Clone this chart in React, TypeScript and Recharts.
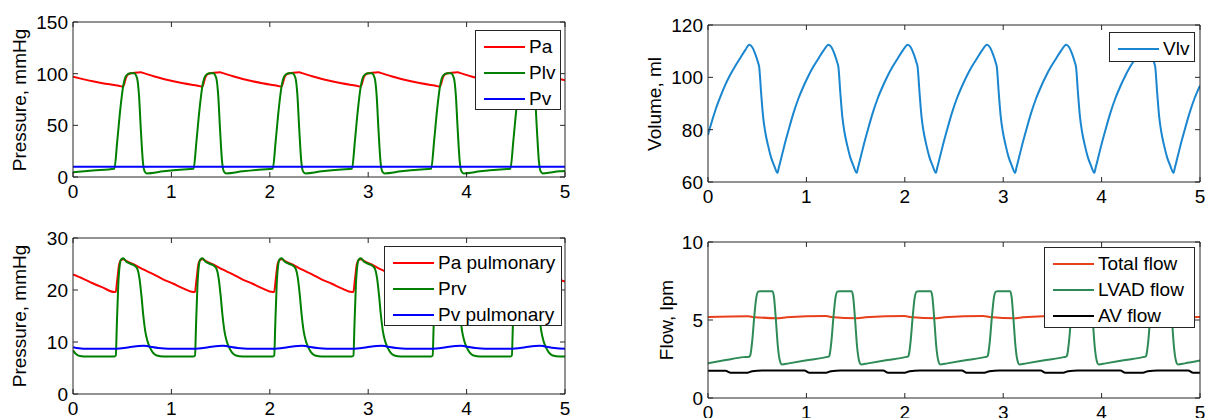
import React from 'react';
import { LineChart, Line, XAxis, YAxis, Legend } from 'recharts';

const FONT = '"Liberation Sans", Arial, Helvetica, sans-serif';
const FRAME = '#262626';
const FS = 19;

type Pt = [number, number];
type Series = { name: string; color: string; points: Pt[] };

const timeTicks = [0, 1, 2, 3, 4, 5];

// top left: systemic pressures (mmHg)
const sysTicks = [0, 50, 100, 150];
const pa: Pt[] = [
  [0, 97], [0.1, 94.7], [0.2, 92.6], [0.3, 90.8],
  [0.42, 89], [0.465, 88.3], [0.51, 87.5], [0.54, 96.5], [0.56, 99.3], [0.6, 100.5], [0.66, 101.2], [0.69, 101.3], [0.72, 100.5], [0.82, 97.5], [0.92, 94.8], [1.02, 92.6], [1.12, 90.7],
  [1.225, 89], [1.27, 88.3], [1.315, 87.5], [1.345, 96.5], [1.365, 99.3], [1.405, 100.5], [1.465, 101.2], [1.495, 101.3], [1.525, 100.5], [1.625, 97.5], [1.725, 94.8], [1.825, 92.6], [1.925, 90.7],
  [2.03, 89], [2.075, 88.3], [2.12, 87.5], [2.15, 96.5], [2.17, 99.3], [2.21, 100.5], [2.27, 101.2], [2.3, 101.3], [2.33, 100.5], [2.43, 97.5], [2.53, 94.8], [2.63, 92.6], [2.73, 90.7],
  [2.835, 89], [2.88, 88.3], [2.925, 87.5], [2.955, 96.5], [2.975, 99.3], [3.015, 100.5], [3.075, 101.2], [3.105, 101.3], [3.135, 100.5], [3.235, 97.5], [3.335, 94.8], [3.435, 92.6], [3.535, 90.7],
  [3.64, 89], [3.685, 88.3], [3.73, 87.5], [3.76, 96.5], [3.78, 99.3], [3.82, 100.5], [3.88, 101.2], [3.91, 101.3], [3.94, 100.5], [4.04, 97.5], [4.14, 94.8], [4.24, 92.6], [4.34, 90.7],
  [4.445, 89], [4.49, 88.3], [4.535, 87.5], [4.565, 96.5], [4.585, 99.3], [4.625, 100.5], [4.685, 101.2], [4.715, 101.3], [4.745, 100.5], [4.845, 97.5], [4.945, 94.8], [5, 93.6],
];
const plv: Pt[] = [
  [0, 4.5], [0.2, 6.3],
  [0.42, 8], [0.45, 35], [0.48, 65], [0.51, 88], [0.54, 98], [0.58, 100.5], [0.62, 100.5], [0.65, 96], [0.67, 80], [0.69, 45], [0.71, 15], [0.73, 5], [0.75, 3.5], [0.92, 5.5], [1.12, 7.3],
  [1.225, 8], [1.255, 35], [1.285, 65], [1.315, 88], [1.345, 98], [1.385, 100.5], [1.425, 100.5], [1.455, 96], [1.475, 80], [1.495, 45], [1.515, 15], [1.535, 5], [1.555, 3.5], [1.725, 5.5], [1.925, 7.3],
  [2.03, 8], [2.06, 35], [2.09, 65], [2.12, 88], [2.15, 98], [2.19, 100.5], [2.23, 100.5], [2.26, 96], [2.28, 80], [2.3, 45], [2.32, 15], [2.34, 5], [2.36, 3.5], [2.53, 5.5], [2.73, 7.3],
  [2.835, 8], [2.865, 35], [2.895, 65], [2.925, 88], [2.955, 98], [2.995, 100.5], [3.035, 100.5], [3.065, 96], [3.085, 80], [3.105, 45], [3.125, 15], [3.145, 5], [3.165, 3.5], [3.335, 5.5], [3.535, 7.3],
  [3.64, 8], [3.67, 35], [3.7, 65], [3.73, 88], [3.76, 98], [3.8, 100.5], [3.84, 100.5], [3.87, 96], [3.89, 80], [3.91, 45], [3.93, 15], [3.95, 5], [3.97, 3.5], [4.14, 5.5], [4.34, 7.3],
  [4.445, 8], [4.475, 35], [4.505, 65], [4.535, 88], [4.565, 98], [4.605, 100.5], [4.645, 100.5], [4.675, 96], [4.695, 80], [4.715, 45], [4.735, 15], [4.755, 5], [4.775, 3.5], [4.945, 5.5], [5, 5.8],
];
const pv: Pt[] = [[0, 9.8], [5, 9.8]];

// top right: LV volume (ml)
const volTicks = [60, 80, 100, 120];
const vlv: Pt[] = [
  [0, 78], [0.03, 82], [0.08, 88], [0.13, 93], [0.18, 97.5], [0.23, 101.3], [0.28, 104.5], [0.33, 107.5], [0.38, 110.5],
  [0.42, 112.5], [0.45, 111.5], [0.48, 109], [0.51, 105.5], [0.52, 104], [0.54, 94], [0.56, 85], [0.58, 79.5], [0.61, 74], [0.64, 69.5], [0.675, 66], [0.705, 63.5], [0.72, 65.5], [0.75, 70], [0.78, 74.5], [0.82, 80], [0.87, 86.5], [0.92, 92], [0.97, 96.5], [1.02, 100.5], [1.07, 104], [1.12, 107], [1.17, 110],
  [1.225, 112.5], [1.255, 111.5], [1.285, 109], [1.315, 105.5], [1.325, 104], [1.345, 94], [1.365, 85], [1.385, 79.5], [1.415, 74], [1.445, 69.5], [1.48, 66], [1.51, 63.5], [1.525, 65.5], [1.555, 70], [1.585, 74.5], [1.625, 80], [1.675, 86.5], [1.725, 92], [1.775, 96.5], [1.825, 100.5], [1.875, 104], [1.925, 107], [1.975, 110],
  [2.03, 112.5], [2.06, 111.5], [2.09, 109], [2.12, 105.5], [2.13, 104], [2.15, 94], [2.17, 85], [2.19, 79.5], [2.22, 74], [2.25, 69.5], [2.285, 66], [2.315, 63.5], [2.33, 65.5], [2.36, 70], [2.39, 74.5], [2.43, 80], [2.48, 86.5], [2.53, 92], [2.58, 96.5], [2.63, 100.5], [2.68, 104], [2.73, 107], [2.78, 110],
  [2.835, 112.5], [2.865, 111.5], [2.895, 109], [2.925, 105.5], [2.935, 104], [2.955, 94], [2.975, 85], [2.995, 79.5], [3.025, 74], [3.055, 69.5], [3.09, 66], [3.12, 63.5], [3.135, 65.5], [3.165, 70], [3.195, 74.5], [3.235, 80], [3.285, 86.5], [3.335, 92], [3.385, 96.5], [3.435, 100.5], [3.485, 104], [3.535, 107], [3.585, 110],
  [3.64, 112.5], [3.67, 111.5], [3.7, 109], [3.73, 105.5], [3.74, 104], [3.76, 94], [3.78, 85], [3.8, 79.5], [3.83, 74], [3.86, 69.5], [3.895, 66], [3.925, 63.5], [3.94, 65.5], [3.97, 70], [4.0, 74.5], [4.04, 80], [4.09, 86.5], [4.14, 92], [4.19, 96.5], [4.24, 100.5], [4.29, 104], [4.34, 107], [4.39, 110],
  [4.445, 112.5], [4.475, 111.5], [4.505, 109], [4.535, 105.5], [4.545, 104], [4.565, 94], [4.585, 85], [4.605, 79.5], [4.635, 74], [4.665, 69.5], [4.7, 66], [4.73, 63.5], [4.745, 65.5], [4.775, 70], [4.805, 74.5], [4.845, 80], [4.895, 86.5], [4.945, 92], [5, 96.8],
];

// bottom left: pulmonary pressures (mmHg)
const pulTicks = [0, 10, 20, 30];
const paPul: Pt[] = [
  [0, 23], [0.1, 22.2], [0.2, 21.3], [0.3, 20.5],
  [0.42, 19.6], [0.435, 19.7], [0.45, 22], [0.47, 25], [0.49, 25.8], [0.51, 25.9], [0.55, 25.5], [0.62, 24.9], [0.72, 23.9], [0.82, 23], [0.92, 22], [1.02, 21.2], [1.12, 20.3],
  [1.225, 19.6], [1.24, 19.7], [1.255, 22], [1.275, 25], [1.295, 25.8], [1.315, 25.9], [1.355, 25.5], [1.425, 24.9], [1.525, 23.9], [1.625, 23], [1.725, 22], [1.825, 21.2], [1.925, 20.3],
  [2.03, 19.6], [2.045, 19.7], [2.06, 22], [2.08, 25], [2.1, 25.8], [2.12, 25.9], [2.16, 25.5], [2.23, 24.9], [2.33, 23.9], [2.43, 23], [2.53, 22], [2.63, 21.2], [2.73, 20.3],
  [2.835, 19.6], [2.85, 19.7], [2.865, 22], [2.885, 25], [2.905, 25.8], [2.925, 25.9], [2.965, 25.5], [3.035, 24.9], [3.135, 23.9], [3.235, 23], [3.335, 22], [3.435, 21.2], [3.535, 20.3],
  [3.64, 19.6], [3.655, 19.7], [3.67, 22], [3.69, 25], [3.71, 25.8], [3.73, 25.9], [3.77, 25.5], [3.84, 24.9], [3.94, 23.9], [4.04, 23], [4.14, 22], [4.24, 21.2], [4.34, 20.3],
  [4.445, 19.6], [4.46, 19.7], [4.475, 22], [4.495, 25], [4.515, 25.8], [4.535, 25.9], [4.575, 25.5], [4.645, 24.9], [4.745, 23.9], [4.845, 23], [4.945, 22], [5, 21.6],
];
const prv: Pt[] = [
  [0, 8.4], [0.03, 7.7], [0.07, 7.3], [0.15, 7.2],
  [0.42, 7.2], [0.435, 7.4], [0.445, 13], [0.46, 21], [0.475, 24.8], [0.49, 25.9], [0.51, 26.1], [0.54, 25.5], [0.59, 25], [0.63, 24.6], [0.655, 24], [0.675, 22.3], [0.695, 19], [0.715, 15], [0.735, 12], [0.755, 10.3], [0.78, 9], [0.81, 8], [0.85, 7.4], [0.92, 7.2],
  [1.225, 7.2], [1.24, 7.4], [1.25, 13], [1.265, 21], [1.28, 24.8], [1.295, 25.9], [1.315, 26.1], [1.345, 25.5], [1.395, 25], [1.435, 24.6], [1.46, 24], [1.48, 22.3], [1.5, 19], [1.52, 15], [1.54, 12], [1.56, 10.3], [1.585, 9], [1.615, 8], [1.655, 7.4], [1.725, 7.2],
  [2.03, 7.2], [2.045, 7.4], [2.055, 13], [2.07, 21], [2.085, 24.8], [2.1, 25.9], [2.12, 26.1], [2.15, 25.5], [2.2, 25], [2.24, 24.6], [2.265, 24], [2.285, 22.3], [2.305, 19], [2.325, 15], [2.345, 12], [2.365, 10.3], [2.39, 9], [2.42, 8], [2.46, 7.4], [2.53, 7.2],
  [2.835, 7.2], [2.85, 7.4], [2.86, 13], [2.875, 21], [2.89, 24.8], [2.905, 25.9], [2.925, 26.1], [2.955, 25.5], [3.005, 25], [3.045, 24.6], [3.07, 24], [3.09, 22.3], [3.11, 19], [3.13, 15], [3.15, 12], [3.17, 10.3], [3.195, 9], [3.225, 8], [3.265, 7.4], [3.335, 7.2],
  [3.64, 7.2], [3.655, 7.4], [3.665, 13], [3.68, 21], [3.695, 24.8], [3.71, 25.9], [3.73, 26.1], [3.76, 25.5], [3.81, 25], [3.85, 24.6], [3.875, 24], [3.895, 22.3], [3.915, 19], [3.935, 15], [3.955, 12], [3.975, 10.3], [4.0, 9], [4.03, 8], [4.07, 7.4], [4.14, 7.2],
  [4.445, 7.2], [4.46, 7.4], [4.47, 13], [4.485, 21], [4.5, 24.8], [4.515, 25.9], [4.535, 26.1], [4.565, 25.5], [4.615, 25], [4.655, 24.6], [4.68, 24], [4.7, 22.3], [4.72, 19], [4.74, 15], [4.76, 12], [4.78, 10.3], [4.805, 9], [4.835, 8], [4.875, 7.4], [4.945, 7.2], [5, 7.2],
];
const pvPul: Pt[] = [
  [0, 9], [0.06, 8.8], [0.15, 8.7],
  [0.42, 8.7], [0.47, 8.75], [0.57, 9], [0.67, 9.25], [0.72, 9.3], [0.77, 9.15], [0.87, 8.85], [0.97, 8.7],
  [1.225, 8.7], [1.275, 8.75], [1.375, 9], [1.475, 9.25], [1.525, 9.3], [1.575, 9.15], [1.675, 8.85], [1.775, 8.7],
  [2.03, 8.7], [2.08, 8.75], [2.18, 9], [2.28, 9.25], [2.33, 9.3], [2.38, 9.15], [2.48, 8.85], [2.58, 8.7],
  [2.835, 8.7], [2.885, 8.75], [2.985, 9], [3.085, 9.25], [3.135, 9.3], [3.185, 9.15], [3.285, 8.85], [3.385, 8.7],
  [3.64, 8.7], [3.69, 8.75], [3.79, 9], [3.89, 9.25], [3.94, 9.3], [3.99, 9.15], [4.09, 8.85], [4.19, 8.7],
  [4.445, 8.7], [4.495, 8.75], [4.595, 9], [4.695, 9.25], [4.745, 9.3], [4.795, 9.15], [4.895, 8.85], [5, 8.7],
];

// bottom right: flows (lpm)
const flowTicks = [0, 5, 10];
const totalFlow: Pt[] = [
  [0, 5.2], [0.4, 5.24], [0.45, 5.2], [0.72, 5.12], [0.8, 5.18], [1.2, 5.25], [1.25, 5.2], [1.52, 5.12], [1.6, 5.18],
  [2.0, 5.26], [2.05, 5.2], [2.33, 5.12], [2.4, 5.18], [2.8, 5.26], [2.86, 5.2], [3.13, 5.12], [3.2, 5.18],
  [3.6, 5.25], [3.66, 5.2], [3.94, 5.12], [4.0, 5.18], [4.42, 5.25], [4.47, 5.2], [4.74, 5.12], [4.8, 5.18], [5, 5.2],
];
const lvadFlow: Pt[] = [
  [0, 2.22], [0.18, 2.43], [0.36, 2.62],
  [0.42, 2.65], [0.43, 2.75], [0.45, 3.7], [0.47, 5.2], [0.49, 6.4], [0.51, 6.82], [0.53, 6.85], [0.655, 6.85], [0.67, 6.5], [0.69, 5], [0.71, 3.3], [0.73, 2.4], [0.75, 2.15], [0.82, 2.22], [1.02, 2.43], [1.2, 2.62],
  [1.225, 2.65], [1.235, 2.75], [1.255, 3.7], [1.275, 5.2], [1.295, 6.4], [1.315, 6.82], [1.335, 6.85], [1.46, 6.85], [1.475, 6.5], [1.495, 5], [1.515, 3.3], [1.535, 2.4], [1.555, 2.15], [1.625, 2.22], [1.825, 2.43], [2.005, 2.62],
  [2.03, 2.65], [2.04, 2.75], [2.06, 3.7], [2.08, 5.2], [2.1, 6.4], [2.12, 6.82], [2.14, 6.85], [2.265, 6.85], [2.28, 6.5], [2.3, 5], [2.32, 3.3], [2.34, 2.4], [2.36, 2.15], [2.43, 2.22], [2.63, 2.43], [2.81, 2.62],
  [2.835, 2.65], [2.845, 2.75], [2.865, 3.7], [2.885, 5.2], [2.905, 6.4], [2.925, 6.82], [2.945, 6.85], [3.07, 6.85], [3.085, 6.5], [3.105, 5], [3.125, 3.3], [3.145, 2.4], [3.165, 2.15], [3.235, 2.22], [3.435, 2.43], [3.615, 2.62],
  [3.64, 2.65], [3.65, 2.75], [3.67, 3.7], [3.69, 5.2], [3.71, 6.4], [3.73, 6.82], [3.75, 6.85], [3.875, 6.85], [3.89, 6.5], [3.91, 5], [3.93, 3.3], [3.95, 2.4], [3.97, 2.15], [4.04, 2.22], [4.24, 2.43], [4.42, 2.62],
  [4.445, 2.65], [4.455, 2.75], [4.475, 3.7], [4.495, 5.2], [4.515, 6.4], [4.535, 6.82], [4.555, 6.85], [4.68, 6.85], [4.695, 6.5], [4.715, 5], [4.735, 3.3], [4.755, 2.4], [4.775, 2.15], [4.845, 2.22], [5, 2.4],
];
const avFlow: Pt[] = [
  [0, 1.74], [0.18, 1.74], [0.23, 1.62], [0.4, 1.62], [0.45, 1.72], [0.55, 1.77],
  [0.98, 1.76], [1.03, 1.62], [1.2, 1.62], [1.25, 1.72], [1.35, 1.77],
  [1.78, 1.76], [1.83, 1.62], [2.0, 1.62], [2.05, 1.72], [2.15, 1.77],
  [2.58, 1.76], [2.63, 1.62], [2.81, 1.62], [2.86, 1.72], [2.96, 1.77],
  [3.38, 1.76], [3.43, 1.62], [3.61, 1.62], [3.66, 1.72], [3.76, 1.77],
  [4.19, 1.76], [4.24, 1.62], [4.42, 1.62], [4.47, 1.72], [4.57, 1.77],
  [4.88, 1.76], [4.93, 1.62], [5, 1.62],
];

const toRows = (pts: Pt[]) => pts.map(([t, v]) => ({ t, v }));

const textStyle = { fontFamily: FONT, fontSize: FS, fill: '#000' };

const BottomTick = ({ x, y, payload }: any) => (
  <g>
    <line x1={x} x2={x} y1={y} y2={y - 5} stroke={FRAME} />
    <text x={x} y={y + 21} textAnchor="middle" {...textStyle}>{payload.value}</text>
  </g>
);
const TopTick = ({ x, y }: any) => <line x1={x} x2={x} y1={y} y2={y + 5} stroke={FRAME} />;
const LeftTick = ({ x, y, payload }: any) => (
  <g>
    <line x1={x} x2={x + 5} y1={y} y2={y} stroke={FRAME} />
    <text x={x - 5} y={y + 7} textAnchor="end" {...textStyle}>{payload.value}</text>
  </g>
);
const RightTick = ({ x, y }: any) => <line x1={x} x2={x - 5} y1={y} y2={y} stroke={FRAME} />;

interface PanelProps {
  left: number;
  top: number;
  width: number;
  height: number;
  plot: { top: number; right: number; bottom: number; left: number };
  yDomain: [number, number];
  yTicks: number[];
  yLabel: string;
  labelX: number;
  series: Series[];
  legend: { left: number; top: number; width: number; height: number };
}

// axis band sizes; the chart margin is reduced by these so the plot box lands where asked
const LEFT_W = 60;
const BOTTOM_H = 25;
const TOP_H = 4;
const RIGHT_W = 4;

function Panel({ left, top, width, height, plot, yDomain, yTicks, yLabel, labelX, series, legend }: PanelProps) {
  const renderLegend = () => (
    <div style={{ width: '100%', height: '100%', boxSizing: 'border-box', border: `1px solid ${FRAME}`, background: '#fff', position: 'relative' }}>
      {series.map((s, i) => (
        <div key={s.name} style={{ position: 'absolute', left: 0, top: 3 + i * 26, height: 26, display: 'flex', alignItems: 'center', whiteSpace: 'nowrap' }}>
          <div style={{ width: 41, height: 2, background: s.color, marginLeft: 8 }} />
          <span style={{ marginLeft: 4, fontFamily: FONT, fontSize: FS, color: '#000' }}>{s.name}</span>
        </div>
      ))}
    </div>
  );
  const margin = {
    top: plot.top - TOP_H,
    right: plot.right - RIGHT_W,
    bottom: plot.bottom - BOTTOM_H,
    left: plot.left - LEFT_W,
  };
  const plotMid = top + plot.top + (height - plot.top - plot.bottom) / 2;
  return (
    <>
      <div style={{ position: 'absolute', left, top, width, height }}>
        <LineChart width={width} height={height} margin={margin}>
          <XAxis dataKey="t" type="number" domain={[0, 5]} ticks={timeTicks} interval={0} height={BOTTOM_H} tickSize={0} tickMargin={0}
            tickLine={false} axisLine={{ stroke: FRAME }} tick={BottomTick} allowDataOverflow />
          <XAxis xAxisId="top" orientation="top" dataKey="t" type="number" domain={[0, 5]} ticks={timeTicks} interval={0} height={TOP_H}
            tickSize={0} tickMargin={0} tickLine={false} axisLine={{ stroke: FRAME }} tick={TopTick} allowDataOverflow />
          <YAxis type="number" domain={yDomain} ticks={yTicks} interval={0} width={LEFT_W} tickSize={0} tickMargin={0}
            tickLine={false} axisLine={{ stroke: FRAME }} tick={LeftTick} allowDataOverflow />
          <YAxis yAxisId="right" orientation="right" type="number" domain={yDomain} ticks={yTicks} interval={0} width={RIGHT_W}
            tickSize={0} tickMargin={0} tickLine={false} axisLine={{ stroke: FRAME }} tick={RightTick} allowDataOverflow />
          {series.map((s) => (
            <Line key={s.name} name={s.name} data={toRows(s.points)} dataKey="v" stroke={s.color} strokeWidth={2}
              dot={false} activeDot={false} type="monotone" isAnimationActive={false} />
          ))}
          <Legend layout="vertical" align="center" verticalAlign="middle" content={renderLegend}
            wrapperStyle={{ position: 'absolute', left: legend.left, top: legend.top, width: legend.width, height: legend.height, right: 'auto', bottom: 'auto', margin: 0 }} />
        </LineChart>
      </div>
      <div style={{ position: 'absolute', left: labelX, top: plotMid, transform: 'translate(-50%, -50%) rotate(-90deg)', fontFamily: FONT, fontSize: FS, whiteSpace: 'nowrap', color: '#000' }}>
        {yLabel}
      </div>
    </>
  );
}

export default function App() {
  return (
    <div style={{ position: 'absolute', left: 0, top: 0, width: 1207, height: 418, background: '#fff', overflow: 'hidden' }}>
      <Panel left={0} top={0} width={600} height={210} plot={{ top: 22, right: 35, bottom: 33, left: 73 }}
        yDomain={[0, 150]} yTicks={sysTicks} yLabel="Pressure, mmHg" labelX={20}
        series={[
          { name: 'Pa', color: '#ff0000', points: pa },
          { name: 'Plv', color: '#008000', points: plv },
          { name: 'Pv', color: '#0000ff', points: pv },
        ]}
        legend={{ left: 475, top: 30, width: 86, height: 80 }} />
      <Panel left={600} top={0} width={607} height={210} plot={{ top: 25, right: 7, bottom: 28, left: 108 }}
        yDomain={[60, 120]} yTicks={volTicks} yLabel="Volume, ml" labelX={655}
        series={[{ name: 'Vlv', color: '#1a86cf', points: vlv }]}
        legend={{ left: 509, top: 32, width: 86, height: 30 }} />
      <Panel left={0} top={210} width={600} height={208} plot={{ top: 28, right: 35, bottom: 24, left: 73 }}
        yDomain={[0, 30]} yTicks={pulTicks} yLabel="Pressure, mmHg" labelX={20}
        series={[
          { name: 'Pa pulmonary', color: '#ff0000', points: paPul },
          { name: 'Prv', color: '#008000', points: prv },
          { name: 'Pv pulmonary', color: '#0000ff', points: pvPul },
        ]}
        legend={{ left: 384, top: 36, width: 178, height: 80 }} />
      <Panel left={600} top={210} width={607} height={208} plot={{ top: 32, right: 7, bottom: 20, left: 108 }}
        yDomain={[0, 10]} yTicks={flowTicks} yLabel="Flow, lpm" labelX={667}
        series={[
          { name: 'Total flow', color: '#e8401c', points: totalFlow },
          { name: 'LVAD flow', color: '#2e8b57', points: lvadFlow },
          { name: 'AV flow', color: '#000000', points: avFlow },
        ]}
        legend={{ left: 444, top: 37, width: 151, height: 81 }} />
    </div>
  );
}
